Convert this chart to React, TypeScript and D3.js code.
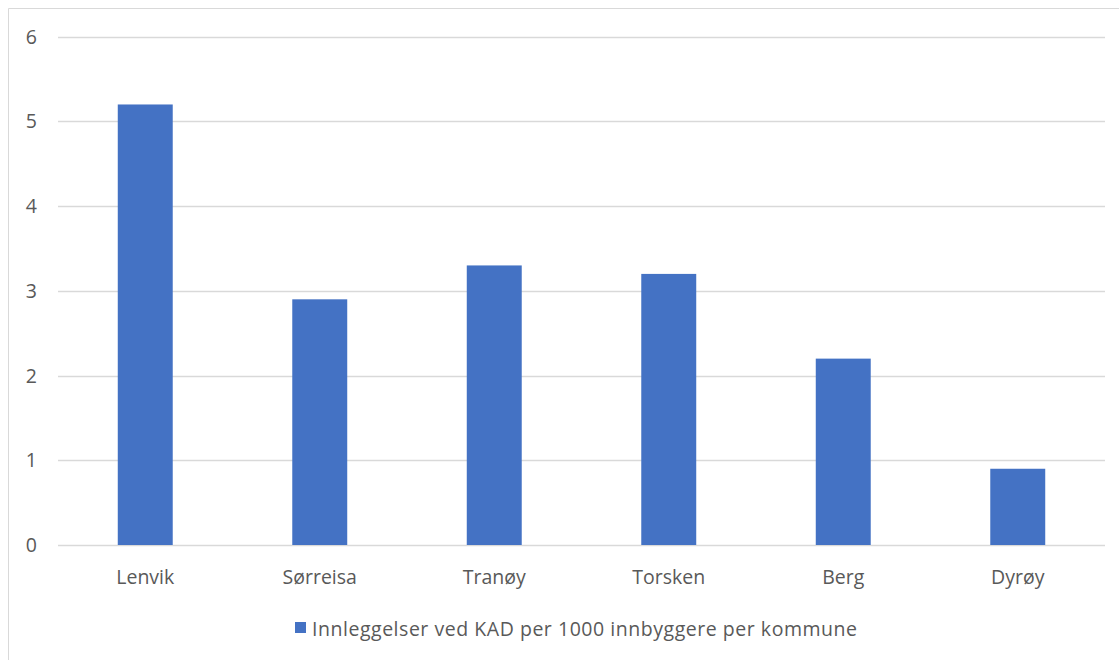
import * as d3 from 'd3';
import React, { useEffect, useRef } from 'react';

const kommuner = ['Lenvik', 'Sørreisa', 'Tranøy', 'Torsken', 'Berg', 'Dyrøy'];
const innleggelser = [5.2, 2.9, 3.3, 3.2, 2.2, 0.9];
const yTicks = [0, 1, 2, 3, 4, 5, 6];
const seriesName = 'Innleggelser ved KAD per 1000 innbyggere per kommune';

const W = 1119;
const H = 660;

function App() {
    const ref = useRef(null);

    useEffect(() => {
        const svg = d3.select(ref.current);
        svg.selectAll('*').remove();

        const font = '"Open Sans", sans-serif';
        const textColor = '#595959';

        // rahmen (nur oben und links sichtbar)
        svg.append('path')
            .attr('d', `M8.5,${H} L8.5,8.5 L${W},8.5`)
            .attr('fill', 'none')
            .attr('stroke', '#d9d9d9')
            .attr('stroke-width', 1);

        const x = d3.scaleBand()
            .domain(kommuner)
            .range([58, 1105])
            .paddingInner(0.685)
            .paddingOuter(0.3425);

        const y = d3.scaleLinear().domain([0, 6]).range([545, 36.7]);

        const g = svg.append('g');

        // gitterlinien
        g.selectAll('line.grid')
            .data(yTicks)
            .enter()
            .append('line')
            .attr('x1', 58)
            .attr('x2', 1105)
            .attr('y1', d => Math.round(y(d)) + 0.5)
            .attr('y2', d => Math.round(y(d)) + 0.5)
            .attr('stroke', '#d9d9d9')
            .attr('stroke-width', 1.5);

        g.selectAll('text.ytick')
            .data(yTicks)
            .enter()
            .append('text')
            .attr('x', 37)
            .attr('y', d => y(d) + 7)
            .attr('text-anchor', 'end')
            .style('font-family', font)
            .style('font-size', '19.5px')
            .style('fill', textColor)
            .text(d => d);

        g.selectAll('text.xtick')
            .data(kommuner)
            .enter()
            .append('text')
            .attr('x', d => x(d) + x.bandwidth() / 2)
            .attr('y', 584)
            .attr('text-anchor', 'middle')
            .style('font-family', font)
            .style('font-size', '19.5px')
            .style('fill', textColor)
            .text(d => d);

        g.selectAll('rect.bar')
            .data(innleggelser)
            .enter()
            .append('rect')
            .attr('x', (d, i) => x(kommuner[i]))
            .attr('y', d => y(d))
            .attr('width', x.bandwidth())
            .attr('height', d => y(0) - y(d))
            .attr('fill', '#4472c4');

        // legende
        const legend = svg.append('g');
        legend.append('rect')
            .attr('x', 295)
            .attr('y', 622)
            .attr('width', 11)
            .attr('height', 11)
            .attr('fill', '#4472c4');
        legend.append('text')
            .attr('x', 312)
            .attr('y', 636)
            .attr('textLength', 545)
            .attr('lengthAdjust', 'spacing')
            .style('font-family', font)
            .style('font-size', '19.5px')
            .style('fill', textColor)
            .text(seriesName);
    }, []);

    return (
        <svg ref={ref} width={W} height={H}
            style={{ position: 'absolute', left: 0, top: 0, background: '#fff' }}></svg>
    );
}

export default App;
